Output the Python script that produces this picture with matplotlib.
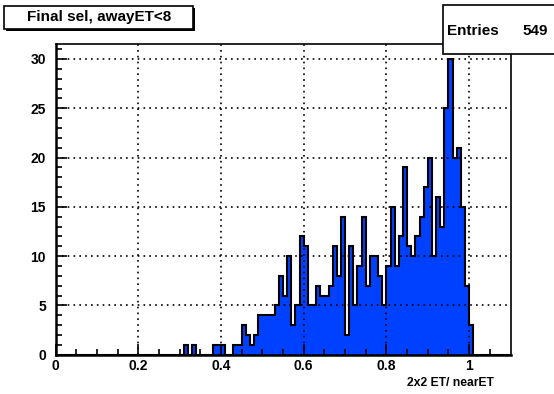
import numpy as np
import matplotlib
matplotlib.use("Agg")
from matplotlib import pyplot as plt
from matplotlib.patches import Rectangle

plt.rcParams['font.family'] = ['Liberation Sans', 'DejaVu Sans']
plt.rcParams['font.weight'] = 'bold'

# histogram: 110 bins of width 0.01 from 0 to 1.1
x_lo = 0.0
x_hi = 1.1
counts = [0, 0, 0, 0, 0, 0, 0, 0, 0, 0,
          0, 0, 0, 0, 0, 0, 0, 0, 0, 0,
          0, 0, 0, 0, 0, 0, 0, 0, 0, 0,
          0, 1, 0, 1, 0, 0, 0, 0, 1, 1,
          1, 0, 0, 1, 1, 3, 2, 1, 2, 4,
          4, 4, 4, 5, 8, 6, 10, 3, 5, 12,
          11, 5, 5, 7, 6, 6, 7, 11, 8, 14,
          2, 11, 5, 9, 14, 7, 10, 10, 8, 5,
          9, 15, 9, 12, 19, 11, 10, 12, 14, 17,
          20, 10, 16, 13, 25, 30, 20, 21, 15, 7,
          3, 0, 0, 0, 0, 0, 0, 0, 0, 0]
title = "Final sel, awayET<8"
xlabel = "2x2 ET/ nearET"
entries = 549
xticks = [0, 0.2, 0.4, 0.6, 0.8, 1.0]
xtick_labels = ["0", "0.2", "0.4", "0.6", "0.8", "1"]
yticks = [0, 5, 10, 15, 20, 25, 30]

W, H = 554, 394
fig = plt.figure(figsize=(W / 100, H / 100), dpi=100)
ax = fig.add_axes([55.6 / W, 1 - 354.7 / H, (510.5 - 55.6) / W, (354.7 - 44.2) / H])

edges = np.linspace(x_lo, x_hi, len(counts) + 1)
ax.stairs(counts, edges, fill=True, color='#0040ff', zorder=2)
ax.stairs(counts, edges, color='black', lw=1.5, zorder=3)

ax.set_xlim(x_lo, x_hi)
ax.set_ylim(0, max(counts) * 1.05)

ax.set_xticks(xticks)
ax.set_xticklabels(xtick_labels)
ax.set_xticks(np.arange(0, 1.1, 0.05), minor=True)
ax.set_yticks(yticks)
ax.set_yticks(np.arange(0, 32, 1), minor=True)
ax.tick_params(axis='both', which='both', direction='in', top=False, right=False,
               labelsize=10, width=1.2, color='black')
ax.tick_params(axis='both', which='major', length=8)
ax.tick_params(axis='both', which='minor', length=4)
ax.tick_params(axis='x', pad=3)
ax.tick_params(axis='y', pad=7)
for lab in ax.get_xticklabels() + ax.get_yticklabels():
    lab.set_fontweight('bold')

ax.grid(True, which='major', color='black', linestyle=(0, (1, 2.5)), lw=1.2, zorder=1)
ax.set_axisbelow(False)
for s in ax.spines.values():
    s.set_linewidth(1.2)
    s.set_zorder(4)
ax.spines['left'].set_linewidth(1.8)
ax.spines['bottom'].set_linewidth(1.8)

fig.text(494 / W, 1 - 383 / H, xlabel, ha='right', va='center', fontsize=8.7, fontweight='bold')

# title box with shadow
fig.patches.append(Rectangle((6 / W, 1 - 31 / H), 189 / W, 23 / H, transform=fig.transFigure,
                             facecolor='black', edgecolor='black', lw=0, zorder=5))
fig.patches.append(Rectangle((4 / W, 1 - 29 / H), 189 / W, 23 / H, transform=fig.transFigure,
                             facecolor='white', edgecolor='black', lw=1.2, zorder=6))
fig.text(99 / W, 1 - 17.5 / H, title, ha='center', va='center', fontsize=11, fontweight='bold', zorder=7)

# stats box
fig.patches.append(Rectangle((443 / W, 1 - 54 / H), 120 / W, 49 / H, transform=fig.transFigure,
                             facecolor='white', edgecolor='black', lw=1.2, zorder=6))
fig.text(447 / W, 1 - 31 / H, "Entries", ha='left', va='center', fontsize=11, fontweight='bold', zorder=7)
fig.text(548 / W, 1 - 31 / H, str(entries), ha='right', va='center', fontsize=11, fontweight='bold', zorder=7)

fig.savefig("out.png", dpi=100, facecolor='white')
